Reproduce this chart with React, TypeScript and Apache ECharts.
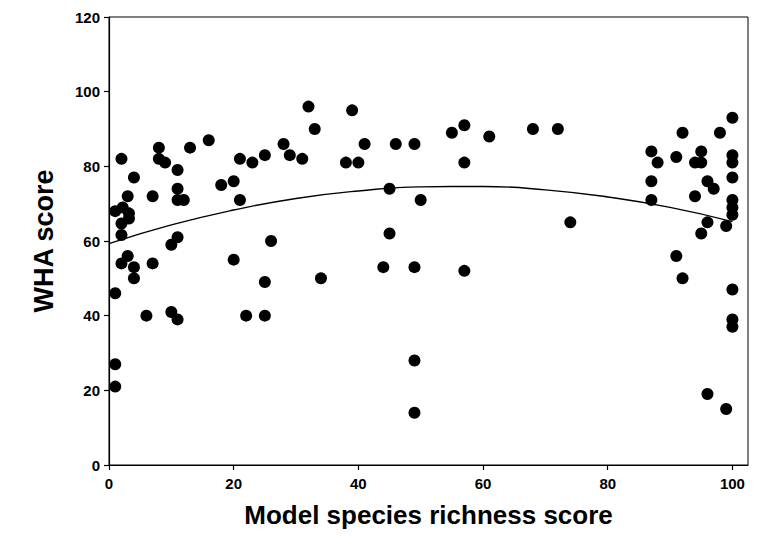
import React, { useEffect, useRef } from "react";
import * as echarts from "echarts";

// Model species richness score (x) and WHA score (y) for each site
const richness = [
  2, 8, 13, 16, 8, 9, 11, 4, 21, 23, 25, 18, 20, 21, 3, 7, 11, 11, 12, 1,
  2.2, 3.2, 3.2, 2, 2, 3, 2, 4, 4, 1, 7, 11, 10, 20, 26, 25, 6, 10, 11, 22,
  25, 1, 1,
  32, 39, 33, 28, 29, 31, 38, 40, 41, 46, 49, 55, 57, 61, 68, 72, 57, 45, 50,
  45, 34, 44, 49, 57, 49, 49, 74,
  92, 87, 88, 91, 95, 94, 95, 87, 87, 94, 96, 97, 98, 100, 96, 99, 95, 91, 92,
  100, 100, 100, 100, 100, 100, 100, 100, 100, 96, 99,
];
const wha = [
  82, 85, 85, 87, 82, 81, 79, 77, 82, 81, 83, 75, 76, 71, 72, 72, 74, 71, 71, 68,
  69, 67.4, 66, 64.7, 61.6, 56, 54, 53, 50, 46, 54, 61, 59, 55, 60, 49, 40, 41, 39, 40,
  40, 27, 21,
  96, 95, 90, 86, 83, 82, 81, 81, 86, 86, 86, 89, 91, 88, 90, 90, 81, 74, 71,
  62, 50, 53, 53, 52, 28, 14, 65,
  89, 84, 81, 82.5, 84, 81, 81, 76, 71, 72, 76, 74, 89, 93, 65, 64, 62, 56, 50,
  83, 81, 77, 71, 69, 67, 47, 39, 37, 19, 15,
];

// Fitted quadratic trend
const fitX = [0, 10, 20, 30, 40, 50, 60, 70, 80, 90, 100];
const fitY = [59.3, 64.3, 68.3, 71.4, 73.4, 74.5, 74.6, 73.7, 71.8, 69.0, 65.2];

const xTicks = [0, 20, 40, 60, 80, 100];
const yTicks = [0, 20, 40, 60, 80, 100, 120];

const FONT = "'Liberation Sans', Arial, Helvetica, sans-serif";

export default function App() {
  const ref = useRef<HTMLDivElement>(null);
  useEffect(() => {
    if (!ref.current) return;
    const chart = echarts.init(ref.current, null, { renderer: "svg" });
    const points = richness.map((x, i) => [x, wha[i]]);
    const fit = fitX.map((x, i) => [x, fitY[i]]);
    chart.setOption({
      animation: false,
      backgroundColor: "#ffffff",
      grid: {
        left: 109,
        right: 12,
        top: 17,
        bottom: 81,
        show: true,
        borderColor: "#000",
        borderWidth: 1,
        backgroundColor: "transparent",
      },
      xAxis: {
        type: "value",
        min: 0,
        max: 102.5,
        interval: 20,
        name: "Model species richness score",
        nameLocation: "middle",
        nameGap: 37,
        nameTextStyle: { fontFamily: FONT, fontSize: 26, fontWeight: "bold", color: "#000" },
        axisLine: { show: true, lineStyle: { color: "#000", width: 1.2 } },
        axisTick: { show: true, inside: false, length: 5, customValues: xTicks, lineStyle: { color: "#000", width: 1.2 } },
        axisLabel: { show: true, margin: 11, customValues: xTicks, fontFamily: FONT, fontSize: 15, fontWeight: "bold", color: "#000" },
        splitLine: { show: false },
      },
      yAxis: {
        type: "value",
        min: 0,
        max: 120,
        interval: 20,
        name: "WHA score",
        nameLocation: "middle",
        nameGap: 52,
        nameTextStyle: { fontFamily: FONT, fontSize: 27, fontWeight: "bold", color: "#000" },
        axisLine: { show: true, lineStyle: { color: "#000", width: 1.2 } },
        axisTick: { show: true, inside: false, length: 5, customValues: yTicks, lineStyle: { color: "#000", width: 1.2 } },
        axisLabel: { show: true, margin: 9, customValues: yTicks, fontFamily: FONT, fontSize: 15, fontWeight: "bold", color: "#000" },
        splitLine: { show: false },
      },
      series: [
        {
          type: "scatter",
          data: points,
          symbol: "circle",
          symbolSize: 12,
          itemStyle: { color: "#000", opacity: 1 },
          z: 3,
        },
        {
          type: "line",
          data: fit,
          smooth: true,
          showSymbol: false,
          lineStyle: { color: "#000", width: 1.4 },
          z: 2,
        },
      ],
    });
    return () => chart.dispose();
  }, []);
  return (
    <div
      ref={ref}
      style={{ position: "fixed", left: 0, top: 0, width: 760, height: 546, background: "#fff" }}
    />
  );
}
